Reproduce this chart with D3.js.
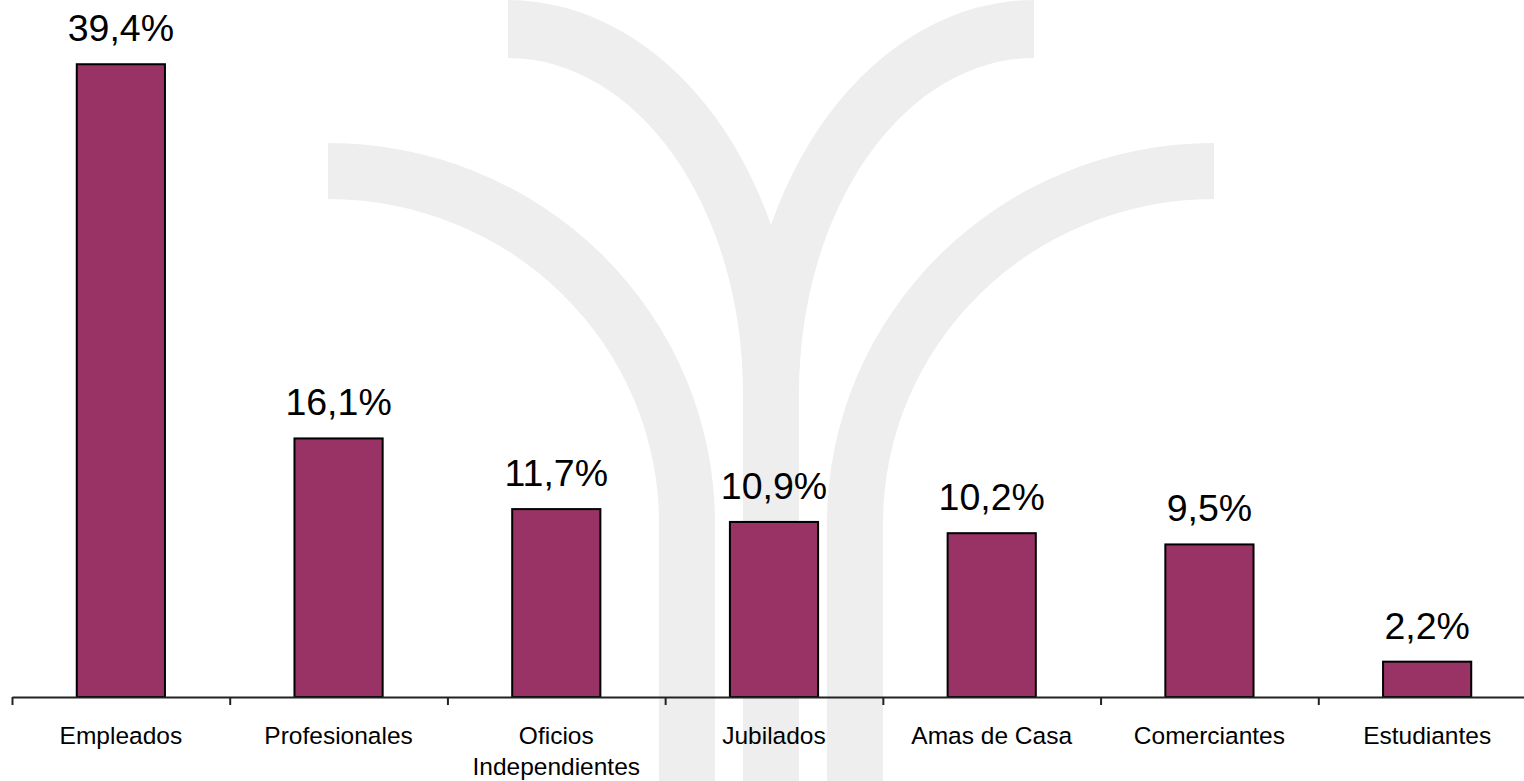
<!DOCTYPE html>
<html>
<head>
<meta charset="utf-8">
<script src="https://cdn.jsdelivr.net/npm/d3@7"></script>
<style>
  html, body { margin: 0; padding: 0; background: #fff; }
  svg { display: block; font-family: Arial, "Liberation Sans", sans-serif; }
</style>
</head>
<body>
<svg id="chart" width="1524" height="781"></svg>
<script>
const categories = ['Empleados', 'Profesionales', 'Oficios Independientes', 'Jubilados', 'Amas de Casa', 'Comerciantes', 'Estudiantes'];
const values = [39.4, 16.1, 11.7, 10.9, 10.2, 9.5, 2.2];

const width = 1524, height = 781;
const margin = {left: 12, right: -12, bottom: 84}; // band range runs slightly past the right edge
const baseY = height - margin.bottom;

const svg = d3.select('#chart');

// light grey logo watermark behind the chart
const logo = svg.append('g').attr('class', 'watermark').attr('fill', '#eeeeee');
[
  'M508,0 A291,393 0 0 1 799,393 L799,781 L743,781 L743,393 A235,335 0 0 0 508,58 Z',
  'M1034,0 A291,393 0 0 0 743,393 L743,781 L799,781 L799,393 A235,335 0 0 1 1034,58 Z',
  'M328,143 A387,380 0 0 1 715,523 L715,781 L659,781 L659,523 A331,324 0 0 0 328,199 Z',
  'M1214,143 A387,380 0 0 0 827,523 L827,781 L883,781 L883,523 A331,324 0 0 1 1214,199 Z'
].forEach(d => logo.append('path').attr('d', d));

const x = d3.scaleBand()
  .domain(categories)
  .range([margin.left, width - margin.right])
  .padding(0);

const y = d3.scaleLinear()
  .domain([0, 43.4])
  .range([baseY, 0]);

// ticks sit on the band edges, not the centres
const edges = d3.scaleLinear().domain([0, categories.length]).range(x.range());
const axis = d3.axisBottom(edges)
  .tickValues(d3.range(0, categories.length + 1))
  .tickFormat('')
  .tickSize(8)
  .tickSizeOuter(0);

const pct = d3.formatLocale({decimal: ',', thousands: '.', grouping: [3], currency: ['', '%']}).format('.1f');

const barW = x.bandwidth() * 0.405;
const data = categories.map((c, i) => ({key: c, value: values[i]}));

const bars = svg.append('g').attr('class', 'bars');
bars.selectAll('rect')
  .data(data)
  .enter()
  .append('rect')
  .attr('x', d => x(d.key) + (x.bandwidth() - barW) / 2)
  .attr('y', d => y(d.value))
  .attr('width', barW)
  .attr('height', d => y(0) - y(d.value))
  .attr('fill', '#993366')
  .attr('stroke', '#000')
  .attr('stroke-width', 2);

bars.selectAll('text')
  .data(data)
  .enter()
  .append('text')
  .attr('x', d => x(d.key) + x.bandwidth() / 2)
  .attr('y', d => y(d.value) - 23)
  .attr('text-anchor', 'middle')
  .attr('font-size', '37.5px')
  .attr('fill', '#000')
  .text(d => pct(d.value) + '%');

const xAxis = svg.append('g')
  .attr('class', 'axis x-axis')
  .attr('transform', `translate(0,${baseY})`)
  .call(axis);
xAxis.select('.domain').attr('stroke', '#222').attr('stroke-width', 2);
xAxis.selectAll('.tick line').attr('stroke', '#222').attr('stroke-width', 2);

// category labels, wrapped when wider than a band
const labels = svg.append('g').attr('class', 'axis-labels');
labels.selectAll('text')
  .data(categories)
  .enter()
  .append('text')
  .attr('x', d => x(d) + x.bandwidth() / 2)
  .attr('y', baseY + 47)
  .attr('text-anchor', 'middle')
  .attr('font-size', '24.5px')
  .attr('fill', '#000')
  .each(function (d) {
    const t = d3.select(this);
    t.text(d);
    if (this.getComputedTextLength() > x.bandwidth() - 10) {
      t.text(null);
      d.split(' ').forEach((w, i) => {
        t.append('tspan')
          .attr('x', x(d) + x.bandwidth() / 2)
          .attr('dy', i ? 31 : 0)
          .text(w);
      });
    }
  });
</script>
</body>
</html>
